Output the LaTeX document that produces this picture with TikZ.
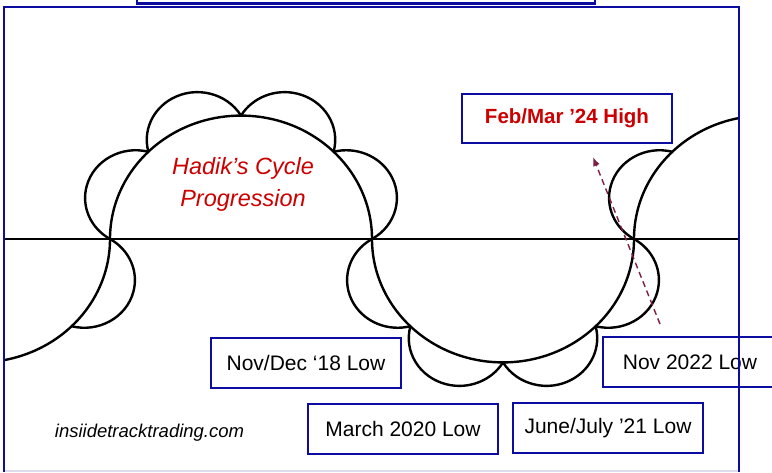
\documentclass[tikz,border=0pt]{standalone}
\usepackage{fontspec}
\setmainfont{Liberation Sans}
\usetikzlibrary{arrows.meta}
\definecolor{frameblue}{RGB}{12,12,160}
\definecolor{hadikred}{RGB}{204,0,0}
\definecolor{arrowred}{RGB}{125,30,70}
\definecolor{bottomline}{RGB}{220,220,236}
\newcommand\cyclebump[1]{\draw[curve] ({#1}:114) ++({#1-82}:50.6) arc[start angle={#1-82}, end angle={#1+82}, radius=50.6];}
\begin{document}
\begin{tikzpicture}[x=1pt,y=-1pt,
  curve/.style={line width=2.4pt, black},
  baseline/.style={line width=1.8pt, black},
  framepen/.style={draw=frameblue, line width=2.6pt},
  labelbox/.style={framepen, fill=white, minimum width=190pt, minimum height=50pt, inner sep=0pt, font=\fontsize{21}{24}\selectfont},
  highbox/.style={framepen, fill=white, minimum width=210pt, minimum height=49pt, inner sep=0pt, text=hadikred, font=\fontsize{20.5}{24}\selectfont\bfseries},
  titletext/.style={text=hadikred, align=center, font=\fontsize{23.5}{32}\selectfont\itshape},
  sitetext/.style={font=\fontsize{18.5}{22}\selectfont\itshape},
  trendarrow/.style={draw=arrowred, line width=1.4pt, dash pattern=on 6pt off 4pt, -{Latex[length=9pt,width=7pt]}}
]
\useasboundingbox (0,0) rectangle (772,472);
\fill[white] (0,0) rectangle (772,472);

\begin{scope}
  \clip (4,7) rectangle (738,470);
  % horizontal axis
  \draw[baseline] (4,239) -- (739,239);
  % cycle 1 (lower half, partly visible)
  \begin{scope}[shift={(-21,239)}, yscale=-0.942]
    \draw[curve] (0:131) arc[start angle=0, end angle=-100, radius=131];
    \cyclebump{-22.5}
  \end{scope}
  % cycle 2 (upper half)
  \begin{scope}[shift={(241,239)}, yscale=-0.942]
    \draw[curve] (180:131) arc[start angle=180, end angle=0, radius=131];
    \cyclebump{157.5}\cyclebump{112.5}\cyclebump{67.5}\cyclebump{22.5}
  \end{scope}
  % cycle 3 (lower half)
  \begin{scope}[shift={(503,239)}, yscale=-0.942]
    \draw[curve] (180:131) arc[start angle=180, end angle=360, radius=131];
    \cyclebump{-157.5}\cyclebump{-112.5}\cyclebump{-67.5}\cyclebump{-22.5}
  \end{scope}
  % cycle 4 (upper half, partly visible)
  \begin{scope}[shift={(765,239)}, yscale=-0.942]
    \draw[curve] (180:131) arc[start angle=180, end angle=90, radius=131];
    \cyclebump{157.5}
  \end{scope}
\end{scope}

% title
\node[titletext] (title) at (243,184) {Hadik’s Cycle\\Progression};

% trend arrow
\coordinate (arrowtail) at (660,324);
\coordinate (arrowhead) at (593,157);
\draw[trendarrow] (arrowtail) -- (arrowhead);

% labels
\node[highbox] (high24) at (567,118.5) {Feb/Mar ’24 High};
\node[labelbox] (low18) at (306,363) {Nov/Dec ‘18 Low};
\node[labelbox] (low20) at (403,429) {March 2020 Low};
\node[labelbox] (low21) at (608,428) {June/July ’21 Low};
\node[labelbox, minimum width=174pt] (low22) at (690,362) {Nov 2022 Low};
\node[sitetext] (site) at (149.5,433) {insiidetracktrading.com};

% frame
\draw[bottomline, line width=1.5pt] (4,471) -- (739,471);
\draw[framepen] (4,472) -- (4,7) -- (739,7) -- (739,472);
\draw[framepen] (137,-5) -- (137,3.5) -- (595,3.5) -- (595,-5);
\end{tikzpicture}
\end{document}
